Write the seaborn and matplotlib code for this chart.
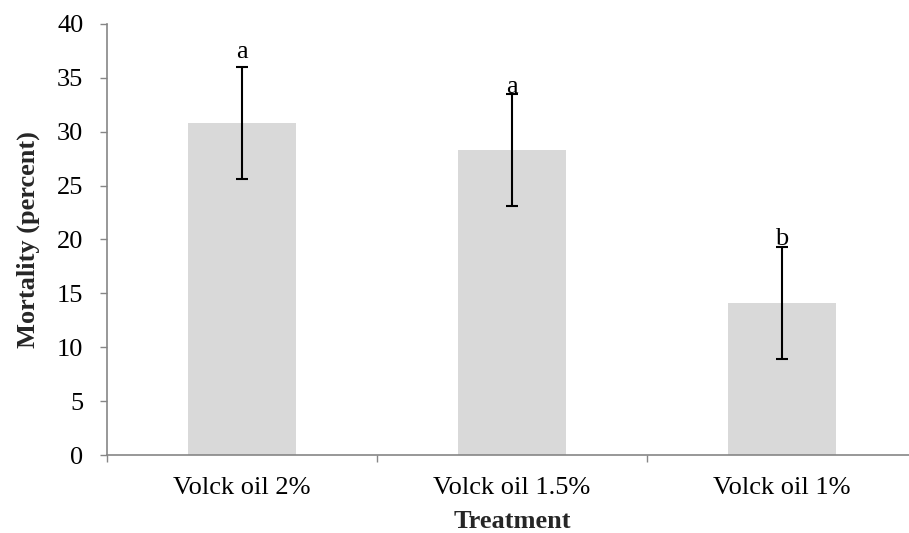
import matplotlib
matplotlib.use("Agg")
import matplotlib.pyplot as plt
import seaborn as sns
import pandas as pd
import numpy as np
from matplotlib.ticker import FixedLocator

treatments = ["Volck oil 2%", "Volck oil 1.5%", "Volck oil 1%"]
mortality = [30.8, 28.3, 14.1]
errors = [5.2, 5.2, 5.2]
letters = ["a", "a", "b"]
letter_y = [36.8, 33.6, 19.5]

sns.set_theme(style="white")
plt.rcParams["font.family"] = ["Liberation Serif", "DejaVu Serif"]

FS = 19

df = pd.DataFrame({"Treatment": treatments, "Mortality": mortality})

fig = plt.figure(figsize=(9.09, 5.33), dpi=100)
ax = fig.add_axes([107/909, 78/533, 810/909, 431/533])

sns.barplot(data=df, x="Treatment", y="Mortality", color="#d9d9d9",
            saturation=1, width=0.4, errorbar=None, ax=ax, linewidth=0)

xpos = np.arange(len(treatments))
ax.errorbar(xpos, mortality, yerr=errors, fmt="none", ecolor="black",
            elinewidth=1.5, capsize=4.5, capthick=1.5, zorder=3)

for x, lab, ly in zip(xpos, letters, letter_y):
    ax.text(x, ly, lab, ha="center", va="baseline", fontsize=FS, color="black")

ax.set_xlim(-0.5, 2.5)
ax.set_ylim(0, 40)
ax.set_yticks(np.arange(0, 41, 5))
ax.tick_params(axis="y", labelsize=FS, length=5, width=1, color="#868686",
               direction="out", left=True, pad=12, labelcolor="black")
ax.tick_params(axis="x", which="major", length=0, labelsize=FS, pad=16, labelcolor="black")
ax.xaxis.set_minor_locator(FixedLocator([-0.5, 0.5, 1.5]))
ax.tick_params(axis="x", which="minor", length=5, width=1, color="#868686",
               direction="out", bottom=True)

for s in ["top", "right"]:
    ax.spines[s].set_visible(False)
for s in ["left", "bottom"]:
    ax.spines[s].set_color("#868686")
    ax.spines[s].set_linewidth(1.2)

ax.set_xlabel("Treatment", fontsize=FS, fontweight="bold", labelpad=7.5)
ax.set_ylabel("Mortality (percent)", fontsize=FS, fontweight="bold", labelpad=12)

fig.savefig("out.png", dpi=100)
